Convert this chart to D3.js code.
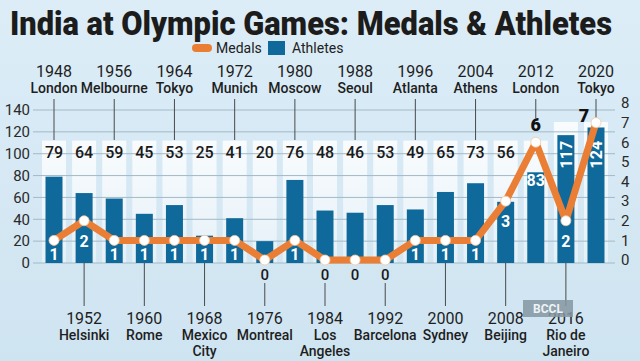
<!DOCTYPE html>
<html><head><meta charset="utf-8">
<script src="https://cdn.jsdelivr.net/npm/d3@7"></script>
<style>
html,body{margin:0;padding:0;background:#d3e7f3;}
svg{display:block;font-family:Roboto,"Noto Sans",sans-serif;}
</style></head>
<body>
<svg id="chart" width="640" height="361"></svg>
<script>
const years = [1948,1952,1956,1960,1964,1968,1972,1976,1980,1984,1988,1992,1996,2000,2004,2008,2012,2016,2020];
const cities = [["London"],["Helsinki"],["Melbourne"],["Rome"],["Tokyo"],["Mexico","City"],["Munich"],["Montreal"],["Moscow"],["Los","Angeles"],["Seoul"],["Barcelona"],["Atlanta"],["Sydney"],["Athens"],["Beijing"],["London"],["Rio de","Janeiro"],["Tokyo"]];
const athletes = [79,64,59,45,53,25,41,20,76,48,46,53,49,65,73,56,83,117,124];
const medals = [1,2,1,1,1,1,1,0,1,0,0,0,1,1,1,3,6,2,7];
const athleteTicks = [0,20,40,60,80,100,120,140];
const medalTicks = [0,1,2,3,4,5,6,7,8];
const titleText = "India at Olympic Games: Medals & Athletes";
const legendItems = ["Medals","Athletes"];

const BLUE = "#0f6a9b", ORANGE = "#ea7e35";
const svg = d3.select("#chart");
const defs = svg.append("defs");
const bg = defs.append("linearGradient").attr("id","bg").attr("x1",0).attr("y1",0).attr("x2",0).attr("y2",1);
bg.append("stop").attr("offset","0%").attr("stop-color","#dcedf7");
bg.append("stop").attr("offset","100%").attr("stop-color","#cfe4f1");
const cg = defs.append("linearGradient").attr("id","col").attr("x1",0).attr("y1",0).attr("x2",0).attr("y2",1);
cg.append("stop").attr("offset","0%").attr("stop-color","#ffffff").attr("stop-opacity",0.85);
cg.append("stop").attr("offset","100%").attr("stop-color","#ffffff").attr("stop-opacity",0.4);

svg.append("rect").attr("width",640).attr("height",361).attr("fill","url(#bg)");

const x = d3.scalePoint().domain(years).range([54, 596]);
const yA = d3.scaleLinear().domain([0,140]).range([263,110]);
const yM = d3.scaleLinear().domain([0,8]).range([260,103]);
const data = years.map((y,i)=>({year:y, city:cities[i], a:athletes[i], m:medals[i], i}));
const last = data.length-1;

// title
svg.append("text").attr("x",10).attr("y",35).attr("textLength",602).attr("lengthAdjust","spacingAndGlyphs")
  .attr("font-size",34).attr("font-weight",900).attr("fill","#1c1c1c").text(titleText);

// legend
const lg = svg.append("g");
lg.append("rect").attr("x",192).attr("y",44).attr("width",20).attr("height",8).attr("rx",4).attr("fill",ORANGE);
lg.append("text").attr("x",216).attr("y",53).attr("font-size",14).attr("fill","#222").text(legendItems[0]);
lg.append("rect").attr("x",268).attr("y",41).attr("width",17).attr("height",14).attr("fill",BLUE);
lg.append("text").attr("x",292).attr("y",53).attr("font-size",14).attr("fill","#222").text(legendItems[1]);

// white background columns
svg.append("g").selectAll("rect").data(data).join("rect")
  .attr("x",d=>x(d.year)-12).attr("width",24)
  .attr("y",d=>yA(Math.min(Math.max(112,d.a+12),129)))
  .attr("height",d=>yA(0)-yA(Math.min(Math.max(112,d.a+12),129)))
  .attr("fill","url(#col)");

// grid
svg.append("g").selectAll("line").data(athleteTicks).join("line")
  .attr("x1",33).attr("x2",615).attr("y1",d=>yA(d)).attr("y2",d=>yA(d))
  .attr("stroke","#a3b9c7").attr("stroke-width",1);

// axes
const axL = svg.append("g").attr("transform","translate(30,0)")
  .call(d3.axisLeft(yA).tickValues(athleteTicks).tickSize(0).tickPadding(0));
axL.select(".domain").remove();
axL.selectAll("text").attr("font-size",15).attr("fill","#2a2a2a").attr("font-family","Roboto");
const axR = svg.append("g").attr("transform","translate(621,0)")
  .call(d3.axisRight(yM).tickValues(medalTicks).tickSize(0).tickPadding(0));
axR.select(".domain").remove();
axR.selectAll("text").attr("font-size",15).attr("fill","#2a2a2a").attr("font-family","Roboto");

// bars
svg.append("g").selectAll("rect").data(data).join("rect")
  .attr("x",d=>x(d.year)-8.5).attr("width",17)
  .attr("y",d=>yA(d.a)).attr("height",d=>yA(0)-yA(d.a)).attr("fill",BLUE);

// athlete labels
const al = svg.append("g").attr("font-size",16);
al.selectAll("text.top").data(data.filter(d=>d.a<80)).join("text")
  .attr("x",d=>x(d.year)).attr("y",158).attr("text-anchor","middle")
  .attr("font-weight",500).attr("fill","#1a1a1a").text(d=>d.a);
al.selectAll("text.in").data(data.filter(d=>d.a>=80&&d.a<100)).join("text")
  .attr("x",d=>x(d.year)).attr("y",d=>yA(d.a)+14).attr("text-anchor","middle")
  .attr("font-weight",700).attr("fill","#fff").text(d=>d.a);
al.selectAll("text.rot").data(data.filter(d=>d.a>=100)).join("text")
  .attr("transform",d=>`translate(${x(d.year)+0.5},${yA(100)+1}) rotate(-90)`)
  .attr("text-anchor","middle").attr("dy","0.36em")
  .attr("font-weight",700).attr("fill","#fff").text(d=>d.a);

// leader lines
const ll = svg.append("g").attr("stroke","#4a4a4a").attr("stroke-width",1);
data.forEach(d=>{
  const cx = x(d.year);
  if(d.i%2===0){
    let bot = 140;
    const above = yM(d.m) < yA(d.a)-4;
    if(above) bot = d.i===last ? yM(d.m)-5 : yM(d.m)-24;
    ll.append("line").attr("x1",cx).attr("x2",cx).attr("y1",99).attr("y2",bot);
  } else {
    ll.append("line").attr("x1",cx).attr("x2",cx).attr("y1",d.m===0?283:263).attr("y2",306);
  }
});

// medals line
svg.append("path").datum(data)
  .attr("d",d3.line().x(d=>x(d.year)).y(d=>yM(d.m)))
  .attr("fill","none").attr("stroke",ORANGE).attr("stroke-width",7).attr("stroke-linejoin","round");
svg.append("g").selectAll("circle").data(data).join("circle")
  .attr("cx",d=>x(d.year)).attr("cy",d=>yM(d.m)).attr("r",5)
  .attr("fill","#fff").attr("stroke","#f2c6a2").attr("stroke-width",0.8);

// medal labels
const ml = svg.append("g");
data.forEach(d=>{
  const cx = x(d.year), cy = yM(d.m);
  if(d.m===0){
    ml.append("text").attr("x",cx).attr("y",280).attr("text-anchor","middle")
      .attr("font-size",15).attr("font-weight",500).attr("fill","#1a1a1a").text(d.m);
  } else if(cy < yA(d.a)-4){
    if(d.i===last){
      ml.append("text").attr("x",cx-12).attr("y",cy-1).attr("text-anchor","middle")
        .attr("font-size",18).attr("font-weight",900).attr("fill","#111").text(d.m);
    } else {
      ml.append("text").attr("x",cx).attr("y",cy-11).attr("text-anchor","middle")
        .attr("font-size",18).attr("font-weight",900).attr("fill","#111").text(d.m);
    }
  } else {
    ml.append("text").attr("x",cx).attr("y",Math.min(cy+20,254)+6).attr("text-anchor","middle")
      .attr("font-size",16).attr("font-weight",700).attr("fill","#fff").text(d.m);
  }
});

// host labels
const hl = svg.append("g").attr("text-anchor","middle").attr("fill","#1e1e1e");
data.forEach(d=>{
  const cx = x(d.year);
  if(d.i%2===0){
    hl.append("text").attr("x",cx).attr("y",77).attr("font-size",16).text(d.year);
    hl.append("text").attr("x",cx).attr("y",93).attr("font-size",14).attr("font-weight",500).text(d.city[0]);
  } else {
    hl.append("text").attr("x",cx).attr("y",324).attr("font-size",16).text(d.year);
    d.city.forEach((c,k)=>hl.append("text").attr("x",cx).attr("y",340+k*16).attr("font-size",14).attr("font-weight",500).text(c));
  }
});

// watermark
svg.append("rect").attr("x",523).attr("y",300).attr("width",50).attr("height",17).attr("fill","#8596a1").attr("opacity",0.85);
svg.append("text").attr("x",548).attr("y",313).attr("text-anchor","middle").attr("font-size",12)
  .attr("font-weight",700).attr("fill","#eef3f6").text("BCCL");
</script>
</body></html>
